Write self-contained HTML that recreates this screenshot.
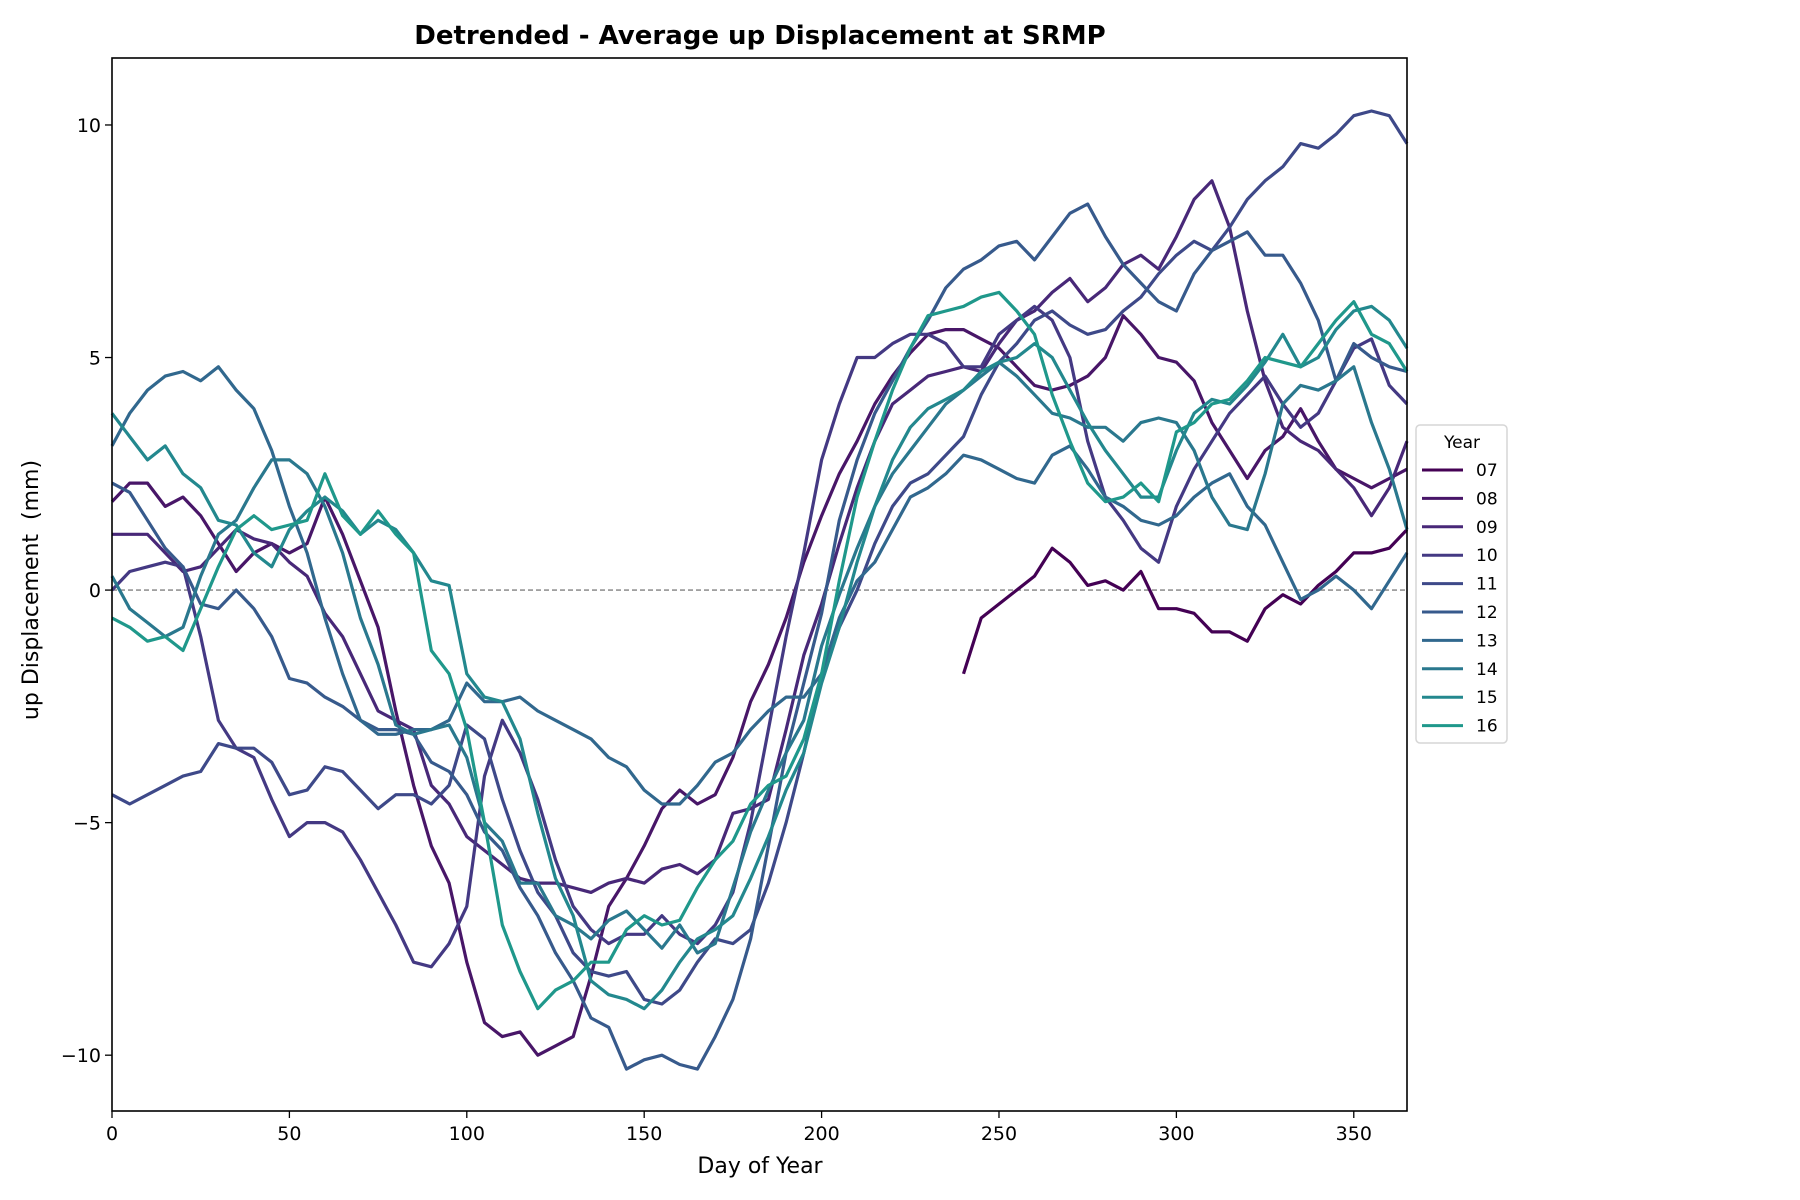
<!DOCTYPE html>
<html><head><meta charset="utf-8"><style>
html,body{margin:0;padding:0;background:#fff;}
svg{display:block;font-family:"DejaVu Sans","Liberation Sans",sans-serif;}
</style></head><body>
<svg id="chart" width="1800" height="1200" viewBox="0 0 1800 1200" xmlns="http://www.w3.org/2000/svg">
<rect width="1800" height="1200" fill="#fff"/>
<text x="760" y="44" text-anchor="middle" font-size="26" font-weight="bold">Detrended - Average up Displacement at SRMP</text>
<g id="plot"></g>
<g id="axes"></g>
<text x="760" y="1173" text-anchor="middle" font-size="22">Day of Year</text>
<text transform="translate(38,590) rotate(-90)" text-anchor="middle" font-size="22" xml:space="preserve">up Displacement  (mm)</text>
<g id="legend"></g>
</svg>
<script>
const years = ["07","08","09","10","11","12","13","14","15","16"];
const colors = ["#440154","#481668","#482878","#443983","#3e4989","#375a8c","#31688e","#2a788e","#23888e","#1f988b"];
const xTicks = [0,50,100,150,200,250,300,350];
const yTicks = [-10,-5,0,5,10];
const dayStep = 5;
const s07 = [null,null,null,null,null,null,null,null,null,null,null,null,null,null,null,null,null,null,null,null,null,null,null,null,null,null,null,null,null,null,null,null,null,null,null,null,null,null,null,null,null,null,null,null,null,null,null,null,
-1.8,-0.6,-0.3,0.0,0.3,0.9,0.6,0.1,0.2,0.0,0.4,-0.4,-0.4,-0.5,-0.9,-0.9,-1.1,-0.4,-0.1,-0.3,0.1,0.4,0.8,0.8,0.9,1.3];
const s08 = [1.9,2.3,2.3,1.8,2.0,1.6,1.0,0.4,0.8,1.0, 0.8,1.0,2.0,1.2,0.2,-0.8,-2.6,-4.2,-5.5,-6.3, -8.0,-9.3,-9.6,-9.5,-10.0,-9.8,-9.6,-8.3,-6.8,-6.2, -5.5,-4.7,-4.3,-4.6,-4.4,-3.6,-2.4,-1.6,-0.6,0.6, 1.6,2.5,3.2,4.0,4.6,5.1,5.5,5.6,5.6,5.4, 5.2,4.8,4.4,4.3,4.4,4.6,5.0,5.9,5.5,5.0, 4.9,4.5,3.6,3.0,2.4,3.0,3.3,3.9,3.2,2.6, 2.4,2.2,2.4,2.6];
const s09 = [1.2,1.2,1.2,0.8,0.4,0.5,0.9,1.3,1.1,1.0, 0.6,0.3,-0.5,-1.0,-1.8,-2.6,-2.8,-3.0,-4.2,-4.6, -5.3,-5.6,-5.9,-6.2,-6.3,-6.3,-6.4,-6.5,-6.3,-6.2, -6.3,-6.0,-5.9,-6.1,-5.8,-4.8,-4.7,-4.5,-3.0,-1.4, -0.3,1.0,2.2,3.2,4.0,4.3,4.6,4.7,4.8,4.7, 5.3,5.8,6.0,6.4,6.7,6.2,6.5,7.0,7.2,6.9, 7.6,8.4,8.8,7.8,6.0,4.5,3.5,3.2,3.0,2.6, 2.2,1.6,2.2,3.2];
const s10 = [0.0,0.4,0.5,0.6,0.5,-1.0,-2.8,-3.4,-3.6,-4.5, -5.3,-5.0,-5.0,-5.2,-5.8,-6.5,-7.2,-8.0,-8.1,-7.6, -6.8,-4.0,-2.8,-3.5,-4.5,-5.8,-6.8,-7.3,-7.6,-7.4, -7.4,-7.0,-7.4,-7.6,-7.2,-6.5,-5.0,-3.0,-1.0,0.8, 2.8,4.0,5.0,5.0,5.3,5.5,5.5,5.3,4.8,4.8, 5.5,5.8,6.1,5.8,5.0,3.2,2.0,1.5,0.9,0.6, 1.8,2.6,3.2,3.8,4.2,4.6,4.0,3.5,3.8,4.5, 5.2,5.4,4.4,4.0];
const s11 = [-4.4,-4.6,-4.4,-4.2,-4.0,-3.9,-3.3,-3.4,-3.4,-3.7, -4.4,-4.3,-3.8,-3.9,-4.3,-4.7,-4.4,-4.4,-4.6,-4.2, -2.9,-3.2,-4.5,-5.6,-6.5,-7.0,-7.8,-8.2,-8.3,-8.2, -8.8,-8.9,-8.6,-8.0,-7.5,-7.6,-7.3,-6.3,-5.0,-3.5, -1.8,-0.8,0.0,1.0,1.8,2.3,2.5,2.9,3.3,4.2, 4.9,5.3,5.8,6.0,5.7,5.5,5.6,6.0,6.3,6.8, 7.2,7.5,7.3,7.8,8.4,8.8,9.1,9.6,9.5,9.8, 10.2,10.3,10.2,9.6];
const s12 = [2.3,2.1,1.5,0.9,0.5,-0.3,-0.4,0.0,-0.4,-1.0, -1.9,-2.0,-2.3,-2.5,-2.8,-3.0,-3.0,-3.1,-3.7,-3.9, -4.4,-5.2,-5.6,-6.4,-7.0,-7.8,-8.4,-9.2,-9.4,-10.3, -10.1,-10.0,-10.2,-10.3,-9.6,-8.8,-7.5,-5.5,-3.5,-2.0, -0.5,1.5,2.8,3.8,4.5,5.2,5.8,6.5,6.9,7.1, 7.4,7.5,7.1,7.6,8.1,8.3,7.6,7.0,6.6,6.2, 6.0,6.8,7.3,7.5,7.7,7.2,7.2,6.6,5.8,4.5, 5.3,5.0,4.8,4.7];
const s13 = [3.1,3.8,4.3,4.6,4.7,4.5,4.8,4.3,3.9,3.0, 1.8,0.8,-0.6,-1.8,-2.8,-3.1,-3.1,-3.0,-3.0,-2.8, -2.0,-2.4,-2.4,-2.3,-2.6,-2.8,-3.0,-3.2,-3.6,-3.8, -4.3,-4.6,-4.6,-4.2,-3.7,-3.5,-3.0,-2.6,-2.3,-2.3, -1.8,-0.6,0.2,0.6,1.3,2.0,2.2,2.5,2.9,2.8, 2.6,2.4,2.3,2.9,3.1,2.6,2.0,1.8,1.5,1.4, 1.6,2.0,2.3,2.5,1.8,1.4,0.6,-0.2,0.0,0.3, 0.0,-0.4,0.2,0.8];
const s14 = [0.3,-0.4,-0.7,-1.0,-0.8,0.3,1.2,1.5,2.2,2.8, 2.8,2.5,1.8,0.8,-0.6,-1.6,-2.9,-3.1,-3.0,-2.9, -3.6,-5.0,-5.4,-6.3,-6.3,-7.0,-7.2,-7.5,-7.1,-6.9, -7.3,-7.7,-7.2,-7.8,-7.6,-6.4,-5.2,-4.3,-3.5,-2.8, -1.2,-0.1,0.9,1.8,2.5,3.0,3.5,4.0,4.3,4.6, 4.9,4.6,4.2,3.8,3.7,3.5,3.5,3.2,3.6,3.7, 3.6,3.0,2.0,1.4,1.3,2.5,4.0,4.4,4.3,4.5, 4.8,3.6,2.6,1.3];
const s15 = [3.8,3.3,2.8,3.1,2.5,2.2,1.5,1.4,0.8,0.5, 1.3,1.7,2.0,1.7,1.2,1.5,1.3,0.8,0.2,0.1, -1.8,-2.3,-2.4,-3.2,-4.8,-6.2,-7.0,-8.4,-8.7,-8.8, -9.0,-8.6,-8.0,-7.5,-7.3,-7.0,-6.2,-5.3,-4.3,-3.5, -2.0,-0.8,0.6,1.8,2.8,3.5,3.9,4.1,4.3,4.7, 4.9,5.0,5.3,5.0,4.3,3.6,3.0,2.5,2.0,2.0, 3.0,3.8,4.1,4.0,4.4,4.9,5.5,4.8,5.0,5.6, 6.0,6.1,5.8,5.2];
const s16 = [-0.6,-0.8,-1.1,-1.0,-1.3,-0.4,0.5,1.3,1.6,1.3, 1.4,1.5,2.5,1.6,1.2,1.7,1.2,0.8,-1.3,-1.8, -3.0,-5.0,-7.2,-8.2,-9.0,-8.6,-8.4,-8.0,-8.0,-7.3, -7.0,-7.2,-7.1,-6.4,-5.8,-5.4,-4.6,-4.2,-4.0,-3.2, -1.8,0.2,2.0,3.2,4.3,5.2,5.9,6.0,6.1,6.3, 6.4,6.0,5.5,4.2,3.2,2.3,1.9,2.0,2.3,1.9, 3.4,3.6,4.0,4.1,4.5,5.0,4.9,4.8,5.3,5.8, 6.2,5.5,5.3,4.7];
const series = [s07,s08,s09,s10,s11,s12,s13,s14,s15,s16];

const NS="http://www.w3.org/2000/svg";
const L=112,R=1407,T=58,B=1111;
const xMin=0,xMax=365,yMin=-11.2,yMax=11.44;
function sx(d){return L+(d-xMin)/(xMax-xMin)*(R-L);}
function sy(v){return B-(v-yMin)/(yMax-yMin)*(B-T);}
function mk(tag,attrs,parent){const e=document.createElementNS(NS,tag);for(const k in attrs)e.setAttribute(k,attrs[k]);parent.appendChild(e);return e;}
const plot=document.getElementById('plot'), axes=document.getElementById('axes'), legend=document.getElementById('legend');

const zl=mk('line',{x1:L,x2:R,y1:sy(0),y2:sy(0),stroke:'#808080','stroke-width':1.3,'stroke-dasharray':'5,3'},plot);



series.forEach((s,i)=>{
  let d='';let pen=false;
  s.forEach((v,j)=>{
    if(v===null){pen=false;return;}
    const day=Math.min(j*dayStep,xMax);
    d+=(pen?'L':'M')+sx(day).toFixed(1)+','+sy(v).toFixed(1);
    pen=true;
  });
  const p=mk('path',{d:d,fill:'none',stroke:colors[i],'stroke-width':3.2,'stroke-linejoin':'round'},plot);
  
  
});

const frame=mk('rect',{x:L,y:T,width:R-L,height:B-T,fill:'none',stroke:'#000','stroke-width':1.6},axes);


xTicks.forEach(t=>{
  const x=sx(t);
  const tk=mk('line',{x1:x,x2:x,y1:B,y2:B+7,stroke:'#000','stroke-width':1.3},axes);
  
  
  const tx=mk('text',{x:x,y:B+29,'text-anchor':'middle','font-size':19},axes);
  tx.textContent=String(t);
  
  
});
yTicks.forEach(t=>{
  const y=sy(t);
  const tk=mk('line',{x1:L-7,x2:L,y1:y,y2:y,stroke:'#000','stroke-width':1.3},axes);
  
  
  const tx=mk('text',{x:L-11,y:y+7,'text-anchor':'end','font-size':19},axes);
  tx.textContent=(t<0?'\u2212'+Math.abs(t):String(t));
  
  
});

const box=mk('rect',{x:1416,y:425,width:91,height:318,rx:4,fill:'#fff',stroke:'#d6d6d6','stroke-width':1.5},legend);


const lt=mk('text',{x:1462,y:448,'text-anchor':'middle','font-size':17},legend);
lt.textContent='Year';


years.forEach((yr,i)=>{
  const y=470+i*28.4;
  const g=mk('g',{},legend);
  
  
  mk('line',{x1:1422,x2:1463,y1:y,y2:y,stroke:colors[i],'stroke-width':3},g);
  const t=mk('text',{x:1476,y:y+6,'font-size':17},g);
  t.textContent=yr;
});
</script>
</body></html>
